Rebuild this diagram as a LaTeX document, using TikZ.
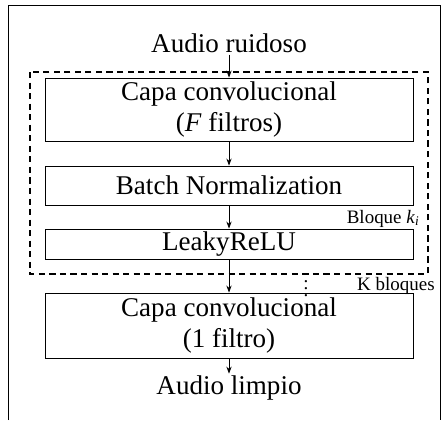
\documentclass[tikz,border=0pt]{standalone}
\usepackage{fontspec}
\setmainfont{Liberation Serif}
\usetikzlibrary{arrows.meta}
\tikzset{
    layer/.style={draw, line width=0.5pt, minimum width=7.36cm, inner sep=0pt,
        align=center, font=\fontsize{15.4}{17.5}\selectfont},
    label/.style={font=\fontsize{15.4}{17.5}\selectfont, inner sep=1pt},
    tag/.style={font=\fontsize{10.8}{12}\selectfont, inner sep=0pt},
    flow/.style={-{Stealth[length=4pt,width=3pt]}, line width=0.5pt}
}
\begin{document}
\begin{tikzpicture}[x=0.02cm, y=-0.02cm]
    \useasboundingbox (0,0) rectangle (448,420);
    % outer frame, open at the bottom
    \draw[line width=0.5pt] (8,420) -- (8,5) -- (440,5) -- (440,420);
    % input and output
    \node[label] (in) at (229,43) {Audio ruidoso};
    \node[label] (out) at (229,388) {Audio limpio};
    % block k_i
    \draw[dashed, line width=0.6pt, dash pattern=on 3.5pt off 2.5pt] (30,72) rectangle (428,274);
    \node[layer, minimum height=1.26cm] (conv) at (229,109.5) {Capa convolucional\\(\textit{F} filtros)};
    \node[layer, minimum height=0.78cm] (bn) at (229,185.5) {Batch Normalization};
    \node[layer, minimum height=0.6cm] (relu) at (229,244) {LeakyReLU};
    \node[tag, anchor=base east] (blk) at (420,223) {Bloque \textit{k}\textsubscript{\textit{i}}};
    % last layer
    \node[layer, minimum height=1.3cm] (last) at (229,325.5) {Capa convolucional\\(1 filtro)};
    \node[tag] (dots) at (306,283) {$\vdots$};
    \node[tag, anchor=base east] (rep) at (435,290) {K bloques};
    % connectors
    \draw[flow] (in) -- (conv);
    \draw[flow] (conv) -- (bn);
    \draw[flow] (bn) -- (relu);
    \draw[flow] (relu) -- (last);
    \draw[flow] (last) -- (out);
\end{tikzpicture}
\end{document}
